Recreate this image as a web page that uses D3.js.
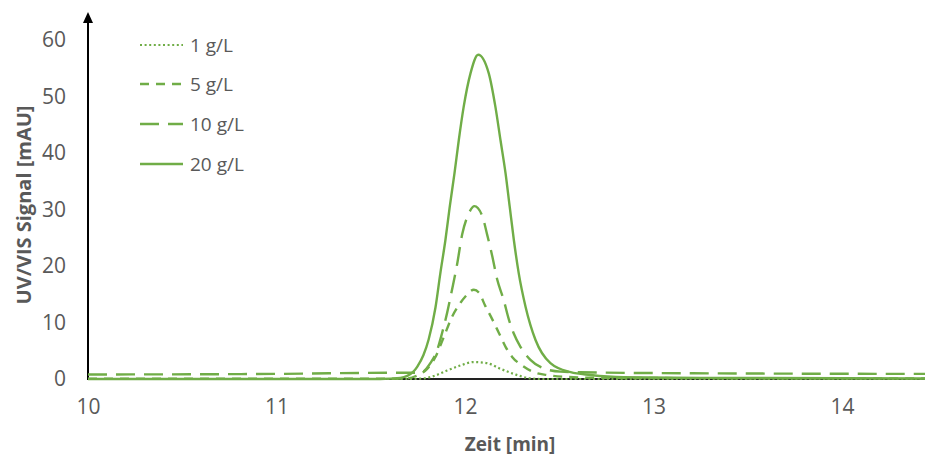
<!DOCTYPE html>
<html>
<head>
<meta charset="utf-8">
<script src="https://cdn.jsdelivr.net/npm/d3@7"></script>
<style>
  body { margin: 0; background: #fff; }
  svg { display: block; }
  text { font-family: "Open Sans", Lato, sans-serif; fill: #595959; }
</style>
</head>
<body>
<svg width="925" height="457"></svg>
<script>
// values (time in min, signal in mAU)
const t1 = [10, 11.7, 11.779, 11.832, 11.905, 11.976, 12.046, 12.117, 12.188, 12.259, 12.33, 12.4, 14.45];
const v1 = [0, 0, 0.1, 0.5, 1.5, 2.4, 3.0, 2.8, 1.8, 0.9, 0.2, 0, 0];

const t5 = [10, 11.6, 11.692, 11.745, 11.799, 11.843, 11.887, 11.931, 11.976, 12.002, 12.047, 12.073, 12.108, 12.144, 12.179, 12.215, 12.25, 12.303, 12.365, 12.436, 12.522, 12.72, 14.45];
const v5 = [0.05, 0.05, 0.1, 0.6, 1.8, 3.9, 7.4, 11.0, 13.5, 14.6, 15.8, 15.3, 12.9, 10.6, 8.2, 5.7, 3.9, 2.4, 1.2, 0.7, 0.4, 0.2, 0.1];

const t10 = [10, 11, 11.6, 11.763, 11.816, 11.852, 11.878, 11.905, 11.931, 11.958, 11.985, 12.02, 12.05, 12.091, 12.117, 12.144, 12.17, 12.205, 12.232, 12.258, 12.294, 12.347, 12.416, 12.507, 12.61, 13, 14.45];
const v10 = [0.8, 0.9, 1.1, 1.1, 2.8, 5.1, 8.1, 11.7, 15.8, 20.3, 25.6, 29.3, 30.6, 28.9, 25.6, 21.8, 17.7, 14.0, 10.6, 8.1, 5.7, 3.4, 1.9, 1.3, 1.2, 1.05, 0.9];

const t20 = [10, 11.55, 11.657, 11.726, 11.747, 11.779, 11.807, 11.843, 11.869, 11.896, 11.919, 11.944, 11.967, 11.993, 12.029, 12.07, 12.126, 12.161, 12.188, 12.215, 12.237, 12.259, 12.285, 12.321, 12.374, 12.453, 12.56, 12.666, 12.84, 13.25, 14.45];
const v20 = [0, 0, 0.2, 1.3, 2.2, 4.2, 7.0, 12.6, 18.7, 24.6, 30.5, 36.4, 42.3, 48.2, 54.1, 57.4, 54.1, 48.2, 42.3, 36.4, 30.5, 24.6, 18.7, 12.8, 6.9, 2.8, 1.2, 0.7, 0.3, 0.2, 0.1];

const seriesNames = ["1 g/L", "5 g/L", "10 g/L", "20 g/L"];
const xTicks = [10, 11, 12, 13, 14];
const yTicks = [0, 10, 20, 30, 40, 50, 60];

const green = "#70AD47";
const dashes = ["2,2.6", "9,7", "19,9", null];
const widths = [2.2, 2.4, 2.4, 2.4];

const series = [[t1, v1], [t5, v5], [t10, v10], [t20, v20]].map(([t, v], i) => ({
  name: seriesNames[i],
  points: t.map((d, j) => ({ t: d, v: v[j] }))
}));

const svg = d3.select("svg");
const x = d3.scaleLinear().domain([10, 14.44]).range([88, 925]);
const y = d3.scaleLinear().domain([0, 60]).range([379, 40]);

// x axis labels
svg.append("g")
  .attr("transform", `translate(0,${y(0)})`)
  .call(d3.axisBottom(x).tickValues(xTicks).tickSize(0).tickPadding(20).tickFormat(d3.format("d")))
  .call(g => g.select(".domain").remove())
  .selectAll("text").style("font-size", "21px").attr("fill", "#595959");

// y axis labels
svg.append("g")
  .attr("transform", `translate(66,0)`)
  .call(d3.axisLeft(y).tickValues(yTicks).tickSize(0).tickPadding(0))
  .call(g => g.select(".domain").remove())
  .selectAll("text").style("font-size", "21px").attr("fill", "#595959");

// axis lines
svg.append("line")
  .attr("x1", x(10)).attr("x2", 925)
  .attr("y1", y(0)).attr("y2", y(0))
  .attr("stroke", "#222").attr("stroke-width", 2);
svg.append("line")
  .attr("x1", x(10)).attr("x2", x(10))
  .attr("y1", y(0) + 1).attr("y2", 20)
  .attr("stroke", "#000").attr("stroke-width", 2);
svg.append("path")
  .attr("d", `M${x(10)},12 L${x(10) - 5},23 L${x(10) + 5},23 Z`)
  .attr("fill", "#000");

const line = d3.line()
  .curve(d3.curveMonotoneX)
  .x(d => x(d.t))
  .y(d => y(d.v));

svg.append("g")
  .selectAll("path")
  .data(series)
  .enter()
  .append("path")
  .attr("d", d => line(d.points))
  .attr("fill", "none")
  .attr("stroke", green)
  .attr("stroke-width", (d, i) => widths[i])
  .attr("stroke-dasharray", (d, i) => dashes[i]);

// legend
const legendY = [45, 84, 124, 164];
const legend = svg.append("g")
  .selectAll("g")
  .data(series)
  .enter()
  .append("g")
  .attr("transform", (d, i) => `translate(0,${legendY[i]})`);
legend.append("line")
  .attr("x1", 140).attr("x2", 183)
  .attr("stroke", green)
  .attr("stroke-width", (d, i) => widths[i])
  .attr("stroke-dasharray", (d, i) => dashes[i]);
legend.append("text")
  .attr("x", 190)
  .attr("dy", "0.35em")
  .style("font-size", "19px")
  .text(d => d.name);

// axis titles
svg.append("text")
  .attr("x", 510).attr("y", 451)
  .attr("text-anchor", "middle")
  .style("font-size", "19px").style("font-weight", "bold")
  .text("Zeit [min]");
svg.append("text")
  .attr("transform", "translate(31,205) rotate(-90)")
  .attr("text-anchor", "middle")
  .style("font-size", "20px").style("font-weight", "bold")
  .text("UV/VIS Signal [mAU]");
</script>
</body>
</html>
